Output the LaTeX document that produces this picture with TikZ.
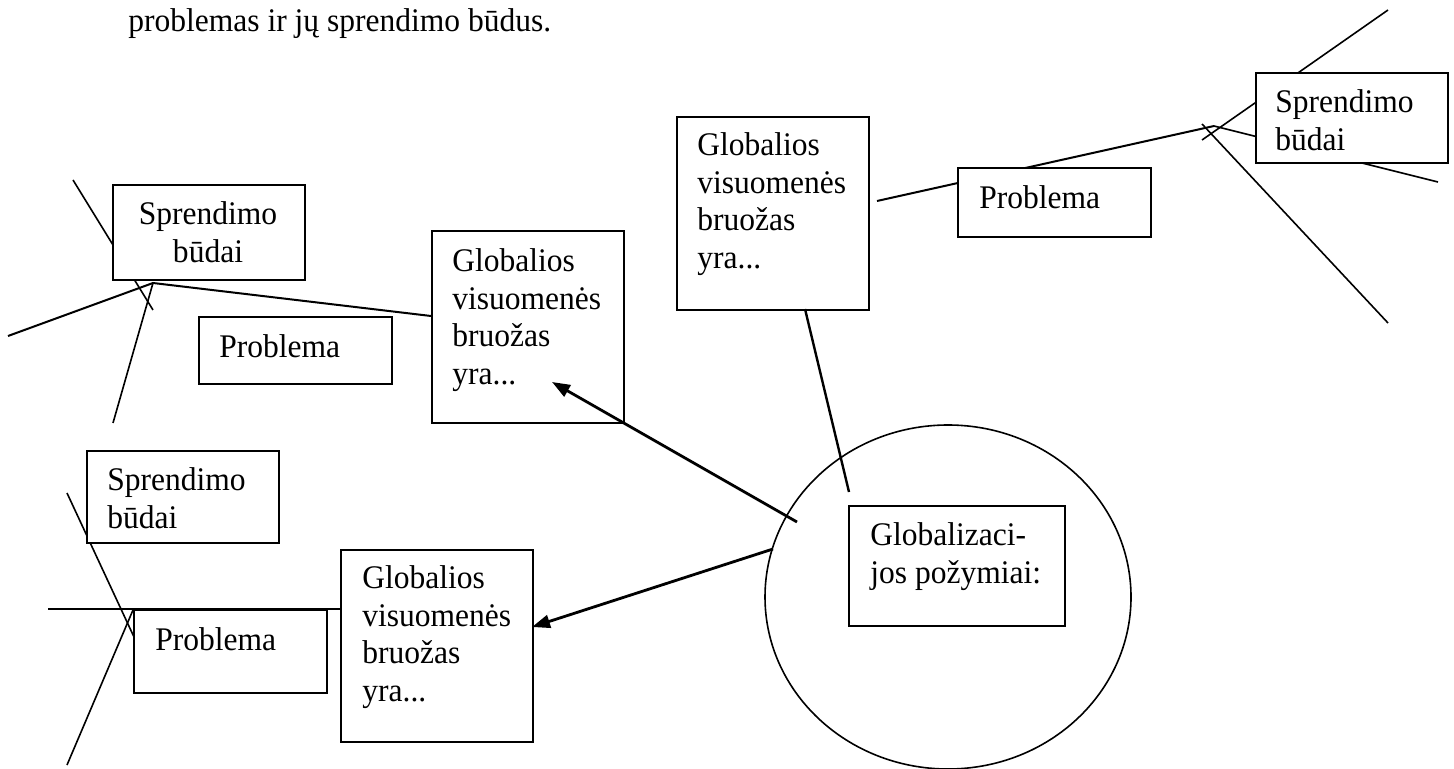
\documentclass[tikz,border=0pt]{standalone}
\usepackage{fontspec}
\setmainfont[FakeStretch=0.955]{Liberation Serif}
\usetikzlibrary{arrows.meta,shapes.geometric}
\pgfdeclarelayer{bg}
\pgfsetlayers{bg,main}
\newcommand\dfs{\fontsize{16.5pt}{18.8pt}\selectfont}
\begin{document}
\begin{tikzpicture}[x=0.5pt,y=-0.5pt,
  box/.style={draw,line width=1pt,fill=white,inner sep=0pt,anchor=north west},
  txt/.style={inner sep=0pt,anchor=north west,align=left,font=\dfs},
  thinline/.style={line width=0.8pt},
  midline/.style={line width=1pt},
  arr/.style={line width=1.4pt,-{Triangle[length=9pt,width=6.5pt]}},
]
\useasboundingbox (0,0) rectangle (1454,769);

% heading text
\node[txt] (head) at (128,8.2) {problemas ir jų sprendimo būdus.};

% boxes
\node[box,minimum width=96pt,minimum height=47.5pt] (sb1) at (112,184) {};
\node[box,minimum width=96.5pt,minimum height=33.5pt] (pb1) at (198,316) {};
\node[box,minimum width=96pt,minimum height=96pt] (gb1) at (431,230) {};
\node[box,minimum width=96pt,minimum height=46pt] (sb2) at (86,450) {};
\node[box,minimum width=96.5pt,minimum height=41.5pt] (pb2) at (133,609) {};
\node[box,minimum width=96pt,minimum height=96pt] (gb2) at (340,549) {};
\node[box,minimum width=96pt,minimum height=96.5pt] (gb3) at (676,116) {};
\node[box,minimum width=96.5pt,minimum height=34.5pt] (pb3) at (957,167) {};
\node[box,minimum width=96pt,minimum height=45pt] (sb3) at (1255,72) {};
\node[draw,ellipse,line width=0.8pt,inner sep=0pt,minimum width=183pt,minimum height=172pt] (circ) at (948,597) {};
\node[box,minimum width=108pt,minimum height=60pt] (gz) at (848,505) {};

% box texts
\node[txt,anchor=north,align=center] (sb1t) at (208,201.2) {Sprendimo\\būdai};
\node[txt] (pb1t) at (219,334.2) {Problema};
\node[txt] (gb1t) at (452,248.2) {Globalios\\visuomenės\\bruožas\\yra...};
\node[txt] (sb2t) at (107,467.2) {Sprendimo\\būdai};
\node[txt] (pb2t) at (155,627.2) {Problema};
\node[txt] (gb2t) at (362,565.2) {Globalios\\visuomenės\\bruožas\\yra...};
\node[txt] (gb3t) at (697,132.2) {Globalios\\visuomenės\\bruožas\\yra...};
\node[txt] (pb3t) at (979,185.2) {Problema};
\node[txt] (sb3t) at (1275,89.2) {Sprendimo\\būdai};
\node[txt] (gzt) at (870,522.2) {Globalizaci-\\jos požymiai:};

% free ends and junctions
\coordinate (a1) at (73,180);   \coordinate (a2) at (153,310);
\coordinate (b0) at (8,336);    \coordinate (j1) at (153,283);
\coordinate (b3) at (431,316);  \coordinate (c2) at (113,423);
\coordinate (d1) at (67,493);   \coordinate (d2) at (134,637);
\coordinate (e1) at (67,765);   \coordinate (e2) at (133,610);
\coordinate (h1) at (48,609);   \coordinate (h2) at (340,609);
\coordinate (p1) at (877,201);  \coordinate (j3) at (1214,126);
\coordinate (q2) at (1438,182);
\coordinate (r1) at (1202,140); \coordinate (r2) at (1388,10);
\coordinate (s1) at (1202,124); \coordinate (s2) at (1388,323);
\coordinate (g3a) at (805,309); \coordinate (g3b) at (849,492);
\coordinate (ar1s) at (797,522); \coordinate (ar1e) at (552,382);
\coordinate (ar2s) at (773,549); \coordinate (ar2e) at (532,627);

\begin{pgfonlayer}{bg}
  \draw[thinline] (a1) -- (a2);
  \draw[midline] (b0) -- (j1) -- (b3);
  \draw[thinline] (j1) -- (c2);
  \draw[thinline] (d1) -- (d2);
  \draw[thinline] (e1) -- (e2);
  \draw[thinline] (h1) -- (h2);
  \draw[midline] (p1) -- (j3);
  \draw[thinline] (j3) -- (q2);
  \draw[thinline] (r1) -- (r2);
  \draw[thinline] (s1) -- (s2);
\end{pgfonlayer}

\draw[line width=1.2pt] (g3a) -- (g3b);
\draw[arr] (ar1s) -- (ar1e);
\draw[arr] (ar2s) -- (ar2e);
\end{tikzpicture}
\end{document}
